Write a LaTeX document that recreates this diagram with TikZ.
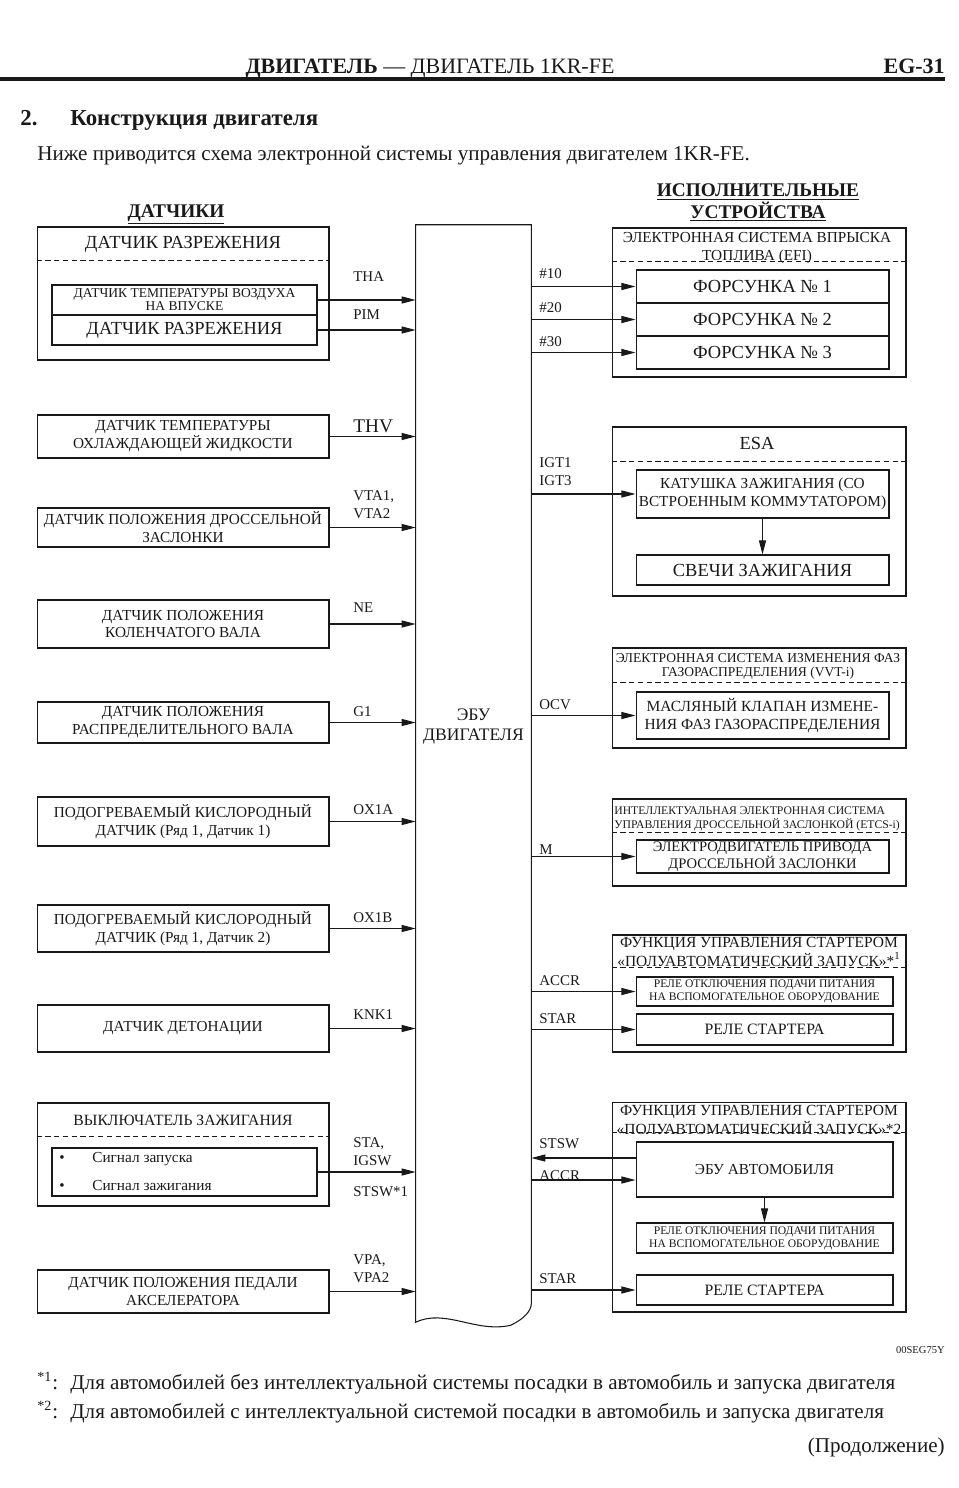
\documentclass[tikz,border=0pt]{standalone}
\usepackage{fontspec}
\setmainfont{Liberation Serif}
\usetikzlibrary{
    arrows.meta,
    calc,
    positioning
}
\definecolor{ink}{RGB}{25,25,25}
\tikzset{
    line join=round,
    box/.style={
        rectangle,
        draw=ink,
        line width=0.6pt,
        inner sep=1pt,
        align=center,
        text=ink,
        font=\fontsize{8.7}{10.2}\selectfont
    },
    boxbig/.style={box, font=\fontsize{10.5}{12}\selectfont},
    boxsmall/.style={box, font=\fontsize{6.6}{7.4}\selectfont},
    group/.style={
        rectangle,
        draw=ink,
        line width=0.6pt,
        inner sep=0pt
    },
    grouptitle/.style={
        align=center,
        inner sep=0pt,
        text=ink,
        font=\fontsize{8.8}{9}\selectfont
    },
    divider/.style={
        draw=ink,
        line width=0.6pt,
        dash pattern=on 3pt off 2pt
    },
    sig/.style={
        -{Triangle[length=8pt,width=4pt]},
        draw=ink,
        line width=0.6pt
    },
    pin/.style={
        anchor=base west,
        inner sep=0pt,
        text=ink,
        font=\fontsize{8.5}{10.2}\selectfont
    },
    heading/.style={
        anchor=base,
        align=center,
        inner sep=0pt,
        text=ink,
        font=\bfseries\fontsize{11}{12}\selectfont
    },
    pagetext/.style={
        anchor=base west,
        inner sep=0pt,
        text=ink,
        font=\fontsize{12}{14}\selectfont
    }
}

\begin{document}
\begin{tikzpicture}[x=0.02cm, y=-0.02cm]
\useasboundingbox (0,0) rectangle (959,1488);

% Page head
\node[pagetext, anchor=base, font=\fontsize{12.5}{14}\selectfont] (runhead) at (430,73) {\textbf{ДВИГАТЕЛЬ} — ДВИГАТЕЛЬ 1KR-FE};
\node[pagetext, anchor=base east, font=\bfseries\fontsize{12.5}{14}\selectfont] (pageno) at (945,73) {EG-31};
\draw[ink, line width=2.3pt] (0,79) -- (945,79);
\node[pagetext, font=\bfseries\fontsize{13}{14}\selectfont] (secno) at (20,125) {2.};
\node[pagetext, font=\bfseries\fontsize{13}{14}\selectfont] (sectitle) at (70,125) {Конструкция двигателя};
\node[pagetext] (intro) at (37,160) {Ниже приводится схема электронной системы управления двигателем 1KR-FE.};

% Column headings
\node[heading] (hsens) at (176,217) {\underline{ДАТЧИКИ}};
\node[heading] (hact) at (758,218) {\underline{ИСПОЛНИТЕЛЬНЫЕ}\\\underline{УСТРОЙСТВА}};

% Engine ECU
\node[minimum width=2.3cm, minimum height=21.56cm, inner sep=0pt] (ecu) at (473.5,764) {};
\draw[ink, line width=0.6pt] (ecu.south east) -- (ecu.north east) -- (ecu.north west) -- ($(ecu.south west)+(0,19)$)
    .. controls ($(ecu.south west)+(30,5)$) and ($(ecu.south west)+(60,30)$) .. ($(ecu.south west)+(95,22)$)
    .. controls ($(ecu.south east)+(-8,16)$) and ($(ecu.south east)+(0,8)$) .. (ecu.south east);
\node[align=center, inner sep=0pt, text=ink, font=\fontsize{10}{11.4}\selectfont] (ecutxt) at (473.5,727) {ЭБУ\\ДВИГАТЕЛЯ};

% Sensors
\node[group, minimum width=5.84cm, minimum height=2.66cm] (mapgrp) at (183,293.5) {};
\node[grouptitle, font=\fontsize{10.5}{12}\selectfont] (maptitle) at (183,244) {ДАТЧИК РАЗРЕЖЕНИЯ};
\draw[divider] ($(mapgrp.north west)+(0,34)$) -- ($(mapgrp.north east)+(0,34)$);
\node[boxsmall, font=\fontsize{7.7}{7.4}\selectfont, minimum width=5.3cm, minimum height=0.6cm] (iat) at (184.5,300) {ДАТЧИК ТЕМПЕРАТУРЫ ВОЗДУХА\\НА ВПУСКЕ};
\node[boxbig, minimum width=5.3cm, minimum height=0.6cm] (mapin) at (184.5,330) {ДАТЧИК РАЗРЕЖЕНИЯ};
\draw[sig] (iat.east) -- (iat.east -| ecu.west);
\draw[sig] (mapin.east) -- (mapin.east -| ecu.west);
\node[pin] (lTHA) at (353,281) {THA};
\node[pin] (lPIM) at (353,319) {PIM};

\node[box, minimum width=5.84cm, minimum height=0.86cm] (ect) at (183,436.5) {ДАТЧИК ТЕМПЕРАТУРЫ\\ОХЛАЖДАЮЩЕЙ ЖИДКОСТИ};
\draw[sig] (ect.east) -- (ect.east -| ecu.west);
\node[pin, font=\fontsize{11}{12}\selectfont] (lTHV) at (353,432) {THV};

\node[box, minimum width=5.84cm, minimum height=0.78cm] (tps) at (183,527.5) {ДАТЧИК ПОЛОЖЕНИЯ ДРОССЕЛЬНОЙ\\ЗАСЛОНКИ};
\draw[sig] (tps.east) -- (tps.east -| ecu.west);
\node[pin, align=left] (lVTA) at (353,518) {VTA1,\\VTA2};

\node[box, minimum width=5.84cm, minimum height=0.96cm] (ckp) at (183,624) {ДАТЧИК ПОЛОЖЕНИЯ\\КОЛЕНЧАТОГО ВАЛА};
\draw[sig] (ckp.east) -- (ckp.east -| ecu.west);
\node[pin] (lNE) at (353,612) {NE};

\node[box, minimum width=5.84cm, minimum height=0.82cm] (cmp) at (183,722.5) {ДАТЧИК ПОЛОЖЕНИЯ\\РАСПРЕДЕЛИТЕЛЬНОГО ВАЛА};
\draw[sig] (cmp.east) -- (cmp.east -| ecu.west);
\node[pin] (lG1) at (353,716) {G1};

\node[box, minimum width=5.84cm, minimum height=0.98cm] (oxa) at (183,821.5) {ПОДОГРЕВАЕМЫЙ КИСЛОРОДНЫЙ\\ДАТЧИК (Ряд 1, Датчик 1)};
\draw[sig] (oxa.east) -- (oxa.east -| ecu.west);
\node[pin] (lOXA) at (353,814) {OX1A};

\node[box, minimum width=5.84cm, minimum height=0.94cm] (oxb) at (183,928.5) {ПОДОГРЕВАЕМЫЙ КИСЛОРОДНЫЙ\\ДАТЧИК (Ряд 1, Датчик 2)};
\draw[sig] (oxb.east) -- (oxb.east -| ecu.west);
\node[pin] (lOXB) at (353,922) {OX1B};

\node[box, minimum width=5.84cm, minimum height=0.94cm] (knk) at (183,1028.5) {ДАТЧИК ДЕТОНАЦИИ};
\draw[sig] (knk.east) -- (knk.east -| ecu.west);
\node[pin] (lKNK) at (353,1019) {KNK1};

\node[group, minimum width=5.84cm, minimum height=2.06cm] (iggrp) at (183,1154.5) {};
\node[grouptitle, font=\fontsize{8.9}{10}\selectfont] (igtitle) at (183,1120) {ВЫКЛЮЧАТЕЛЬ ЗАЖИГАНИЯ};
\draw[divider] ($(iggrp.north west)+(0,34)$) -- ($(iggrp.north east)+(0,34)$);
\node[box, minimum width=5.3cm, minimum height=0.96cm] (igsig) at (184.5,1172) {};
\node[pin, font=\fontsize{8.7}{9}\selectfont] (bul1) at (59,1162) {\textbullet};
\node[pin, font=\fontsize{8.7}{9}\selectfont] (sig1) at (92,1162) {Сигнал запуска};
\node[pin, font=\fontsize{8.7}{9}\selectfont] (bul2) at (59,1190) {\textbullet};
\node[pin, font=\fontsize{8.7}{9}\selectfont] (sig2) at (92,1190) {Сигнал зажигания};
\draw[sig] (igsig.east) -- (igsig.east -| ecu.west);
\node[pin, align=left] (lSTA) at (353,1165) {STA,\\IGSW};
\node[pin] (lSTSW) at (353,1196) {STSW*1};

\node[box, minimum width=5.84cm, minimum height=0.86cm] (app) at (183,1291.5) {ДАТЧИК ПОЛОЖЕНИЯ ПЕДАЛИ\\АКСЕЛЕРАТОРА};
\draw[sig] (app.east) -- (app.east -| ecu.west);
\node[pin, align=left] (lVPA) at (353,1282) {VPA,\\VPA2};

% Actuators: EFI
\node[group, minimum width=5.88cm, minimum height=2.98cm] (efi) at (759,302.5) {};
\node[grouptitle, font=\fontsize{8.7}{10.2}\selectfont] (efititle) at (757,248) {ЭЛЕКТРОННАЯ СИСТЕМА ВПРЫСКА\\ТОПЛИВА (EFI)};
\draw[divider] ($(efi.north west)+(0,34)$) -- ($(efi.north east)+(0,34)$);
\node[boxbig, minimum width=5.06cm, minimum height=0.66cm] (inj1) at (762.5,286.5) {ФОРСУНКА №~1};
\node[boxbig, minimum width=5.06cm, minimum height=0.66cm] (inj2) at (762.5,319.5) {ФОРСУНКА №~2};
\node[boxbig, minimum width=5.06cm, minimum height=0.66cm] (inj3) at (762.5,352.5) {ФОРСУНКА №~3};
\draw[sig] (inj1.west -| ecu.east) -- (inj1.west);
\draw[sig] (inj2.west -| ecu.east) -- (inj2.west);
\draw[sig] (inj3.west -| ecu.east) -- (inj3.west);
\node[pin] (l10) at (539,278) {\#10};
\node[pin] (l20) at (539,312) {\#20};
\node[pin] (l30) at (539,346) {\#30};

% ESA
\node[group, minimum width=5.88cm, minimum height=3.38cm] (esa) at (759,511.5) {};
\node[grouptitle, font=\fontsize{10.5}{12}\selectfont] (esatitle) at (757,443) {ESA};
\draw[divider] ($(esa.north west)+(0,35)$) -- ($(esa.north east)+(0,35)$);
\node[box, inner sep=0.5pt, font=\fontsize{8.7}{10.2}\selectfont, minimum width=5.06cm, minimum height=0.96cm] (coil) at (762.5,494) {КАТУШКА ЗАЖИГАНИЯ (СО\\ВСТРОЕННЫМ КОММУТАТОРОМ)};
\node[boxbig, minimum width=5.06cm, minimum height=0.6cm] (plug) at (762.5,570) {СВЕЧИ ЗАЖИГАНИЯ};
\draw[sig] (coil) -- (plug);
\draw[sig] (coil.west -| ecu.east) -- (coil.west);
\node[pin, align=left] (lIGT) at (539,485) {IGT1\\IGT3};

% VVT-i
\node[group, minimum width=5.88cm, minimum height=2.0cm] (vvt) at (759,698) {};
\node[grouptitle, font=\fontsize{7.7}{8}\selectfont] (vvttitle) at (758,666) {ЭЛЕКТРОННАЯ СИСТЕМА ИЗМЕНЕНИЯ ФАЗ\\ГАЗОРАСПРЕДЕЛЕНИЯ (VVT-i)};
\draw[divider] ($(vvt.north west)+(0,35)$) -- ($(vvt.north east)+(0,35)$);
\node[box, font=\fontsize{8.8}{10.2}\selectfont, minimum width=5.06cm, minimum height=0.94cm] (ocv) at (762.5,715.5) {МАСЛЯНЫЙ КЛАПАН ИЗМЕНЕ-\\НИЯ ФАЗ ГАЗОРАСПРЕДЕЛЕНИЯ};
\draw[sig] (ocv.west -| ecu.east) -- (ocv.west);
\node[pin] (lOCV) at (539,709) {OCV};

% ETCS-i
\node[group, minimum width=5.88cm, minimum height=1.74cm] (etcs) at (759,842.5) {};
\node[grouptitle, anchor=west, align=left, font=\fontsize{6.65}{8}\selectfont] (etcstitle) at (614,819) {ИНТЕЛЛЕКТУАЛЬНАЯ ЭЛЕКТРОННАЯ СИСТЕМА\\УПРАВЛЕНИЯ ДРОССЕЛЬНОЙ ЗАСЛОНКОЙ (ETCS-i)};
\draw[divider] ($(etcs.north west)+(0,34)$) -- ($(etcs.north east)+(0,34)$);
\node[box, inner sep=0.3pt, font=\fontsize{8.3}{8.8}\selectfont, minimum width=5.06cm, minimum height=0.66cm] (thm) at (762.5,856.5) {ЭЛЕКТРОДВИГАТЕЛЬ ПРИВОДА\\ДРОССЕЛЬНОЙ ЗАСЛОНКИ};
\draw[sig] (thm.west -| ecu.east) -- (thm.west);
\node[pin] (lM) at (539,854) {M};

% Starter control *1
\node[group, minimum width=5.88cm, minimum height=2.34cm] (st1) at (759,993.5) {};
\node[grouptitle] (st1title) at (759,952) {ФУНКЦИЯ УПРАВЛЕНИЯ СТАРТЕРОМ\\«ПОЛУАВТОМАТИЧЕСКИЙ ЗАПУСК»*\textsuperscript{1}};
\draw[divider] ($(st1.north west)+(0,33)$) -- ($(st1.north east)+(0,33)$);
\node[boxsmall, minimum width=5.14cm, minimum height=0.58cm] (acc1) at (764.5,991.5) {РЕЛЕ ОТКЛЮЧЕНИЯ ПОДАЧИ ПИТАНИЯ\\НА ВСПОМОГАТЕЛЬНОЕ ОБОРУДОВАНИЕ};
\node[box, font=\fontsize{9}{10}\selectfont, minimum width=5.14cm, minimum height=0.62cm] (str1) at (764.5,1029.5) {РЕЛЕ СТАРТЕРА};
\draw[sig] (acc1.west -| ecu.east) -- (acc1.west);
\draw[sig] (str1.west -| ecu.east) -- (str1.west);
\node[pin] (lACC1) at (539,985) {ACCR};
\node[pin] (lSTAR1) at (539,1023) {STAR};

% Starter control *2
\node[group, minimum width=5.88cm, minimum height=4.2cm] (st2) at (759,1207) {};
\node[grouptitle] (st2title) at (759,1120) {ФУНКЦИЯ УПРАВЛЕНИЯ СТАРТЕРОМ\\«ПОЛУАВТОМАТИЧЕСКИЙ ЗАПУСК»*2};
\draw[divider] ($(st2.north west)+(0,31)$) -- ($(st2.north east)+(0,31)$);
\node[box, minimum width=5.14cm, minimum height=1.1cm] (bcm) at (764.5,1169.5) {ЭБУ АВТОМОБИЛЯ};
\node[boxsmall, minimum width=5.14cm, minimum height=0.6cm] (acc2) at (764.5,1238) {РЕЛЕ ОТКЛЮЧЕНИЯ ПОДАЧИ ПИТАНИЯ\\НА ВСПОМОГАТЕЛЬНОЕ ОБОРУДОВАНИЕ};
\node[box, font=\fontsize{9}{10}\selectfont, minimum width=5.14cm, minimum height=0.6cm] (str2) at (764.5,1290) {РЕЛЕ СТАРТЕРА};
\draw[sig] ([yshift=0.23cm]bcm.west) -- ([yshift=0.23cm]bcm.west -| ecu.east);
\draw[sig] ([yshift=-0.21cm]bcm.west -| ecu.east) -- ([yshift=-0.21cm]bcm.west);
\draw[sig] (bcm) -- (acc2);
\draw[sig] (str2.west -| ecu.east) -- (str2.west);
\node[pin] (lSTSW2) at (539,1148) {STSW};
\node[pin] (lACC2) at (539,1180) {ACCR};
\node[pin] (lSTAR2) at (539,1283) {STAR};

% Notes
\node[pagetext, anchor=base east, font=\fontsize{6}{7}\selectfont] (figcode) at (945,1353) {00SEG75Y};
\node[pagetext] (fn1mark) at (37,1389) {\textsuperscript{*1}:};
\node[pagetext] (fn1) at (70,1389) {Для автомобилей без интеллектуальной системы посадки в автомобиль и запуска двигателя};
\node[pagetext] (fn2mark) at (37,1418) {\textsuperscript{*2}:};
\node[pagetext] (fn2) at (70,1418) {Для автомобилей с интеллектуальной системой посадки в автомобиль и запуска двигателя};
\node[pagetext, anchor=base east] (cont) at (945,1452) {(Продолжение)};

\end{tikzpicture}
\end{document}
